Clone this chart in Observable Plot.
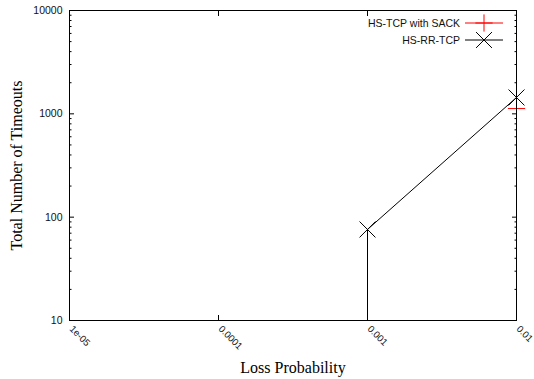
<!DOCTYPE html>
<html><head><meta charset="utf-8">
<script src="https://cdn.jsdelivr.net/npm/d3@7"></script>
<script src="https://cdn.jsdelivr.net/npm/@observablehq/plot@0.6"></script>
<style>body{margin:0;background:#fff}#chart{position:relative;width:534px;height:379px}</style>
</head><body><div id="chart"></div>
<script>
// Data
const lossProb = [0.001, 0.01];
const hsRrTcp = [76, 1440];
const sackLossProb = [0.01];
const hsTcpSack = [1125];
const seriesNames = ["HS-TCP with SACK", "HS-RR-TCP"];
const xTicks = [1e-5, 1e-4, 1e-3, 1e-2];
const xTickLabels = ["1e-05", "0.0001", "0.001", "0.01"];
const yTicks = [10, 100, 1000, 10000];
const yTickLabels = ["10", "100", "1000", "10000"];
const yMinorTicks = [20,30,40,50,60,70,80,90,200,300,400,500,600,700,800,900,2000,3000,4000,5000,6000,7000,8000,9000];
const xDomain = [1e-5, 1e-2];
const yDomain = [10, 10000];
const xLabel = "Loss Probability";
const yLabel = "Total Number of Timeouts";

const rr = lossProb.map((p, i) => ({p, v: hsRrTcp[i]}));
const sack = sackLossProb.map((p, i) => ({p, v: hsTcpSack[i]}));

const W = 534, H = 379, mL = 69, mR = 18, mT = 10, mB = 59;
const sans = "Liberation Sans, Arial, sans-serif";
const serif = "Liberation Serif, Times New Roman, serif";

const chart = Plot.plot({
  width: W, height: H,
  marginLeft: mL, marginRight: mR, marginTop: mT, marginBottom: mB,
  style: {fontFamily: sans, background: "#fff", overflow: "visible"},
  x: {type: "log", domain: xDomain},
  y: {type: "log", domain: yDomain},
  marks: [
    // ticks (inward, mirrored)
    Plot.axisY(yTicks, {anchor: "left", tickSize: -5, tickFormat: () => "", label: null}),
    Plot.axisY(yTicks, {anchor: "right", tickSize: -5, tickFormat: () => "", label: null}),
    Plot.axisY(yMinorTicks, {anchor: "left", tickSize: -2.5, tickFormat: () => "", label: null}),
    Plot.axisY(yMinorTicks, {anchor: "right", tickSize: -2.5, tickFormat: () => "", label: null}),
    Plot.axisX(xTicks, {anchor: "bottom", tickSize: -5, tickFormat: () => "", label: null}),
    Plot.axisX(xTicks, {anchor: "top", tickSize: -5, tickFormat: () => "", label: null}),
    // tick labels
    Plot.text(yTicks, {y: d => d, frameAnchor: "left", textAnchor: "end", dx: -7, text: (d, i) => yTickLabels[i], fontSize: 10.5, fill: "#111"}),
    Plot.text(xTicks, {x: d => d, frameAnchor: "bottom", textAnchor: "start", rotate: 45, dx: -0.5, dy: 9, text: (d, i) => xTickLabels[i], fontSize: 9.5, fill: "#111"}),
    // axis labels
    Plot.text([xLabel], {frameAnchor: "bottom", textAnchor: "middle", lineAnchor: "middle", dy: 47, text: d => d, fontSize: 16, fontFamily: serif, fill: "#000"}),
    Plot.text([yLabel], {frameAnchor: "left", textAnchor: "middle", lineAnchor: "middle", rotate: -90, dx: -53, text: d => d, fontSize: 16, fontFamily: serif, fill: "#000"}),
    // HS-RR-TCP
    Plot.ruleX(rr, {x: "p", y1: yDomain[0], y2: "v", stroke: "black", strokeWidth: 1}),
    Plot.line(rr, {x: "p", y: "v", stroke: "black", strokeWidth: 1}),
    Plot.dot(rr, {x: "p", y: "v", symbol: "times", r: 7.3, stroke: "black", strokeWidth: 1}),
    // HS-TCP with SACK
    Plot.ruleX(sack, {x: "p", y1: yDomain[0], y2: "v", stroke: "red", strokeWidth: 1}),
    Plot.dot(sack, {x: "p", y: "v", symbol: "plus", r: 5.6, stroke: "red", strokeWidth: 1}),
    Plot.frame({stroke: "black", strokeWidth: 1})
  ]
});
document.getElementById("chart").appendChild(chart);

// Legend (top-right, inside the frame)
const svg = d3.select(chart);
const right = W - mR;
const legend = svg.append("g").attr("font-family", sans).attr("font-size", 10.5);
const rows = [
  {name: seriesNames[0], color: "red", sym: d3.symbolPlus, size: Math.PI * 5.6 * 5.6, dy: 23},
  {name: seriesNames[1], color: "black", sym: d3.symbolTimes, size: Math.PI * 7.3 * 7.3, dy: 40}
];
rows.forEach(r => {
  const y = mT + r.dy - 10;
  legend.append("text").attr("x", right - 56).attr("y", y).attr("text-anchor", "end")
    .attr("dy", "0.35em").attr("fill", "#111").text(r.name);
  legend.append("line").attr("x1", right - 51).attr("x2", right - 13).attr("y1", y).attr("y2", y)
    .attr("stroke", r.color).attr("stroke-width", 1);
  legend.append("path").attr("transform", `translate(${right - 32},${y})`)
    .attr("d", d3.symbol(r.sym, r.size)()).attr("fill", "none").attr("stroke", r.color).attr("stroke-width", 1);
});
</script>
</body></html>
